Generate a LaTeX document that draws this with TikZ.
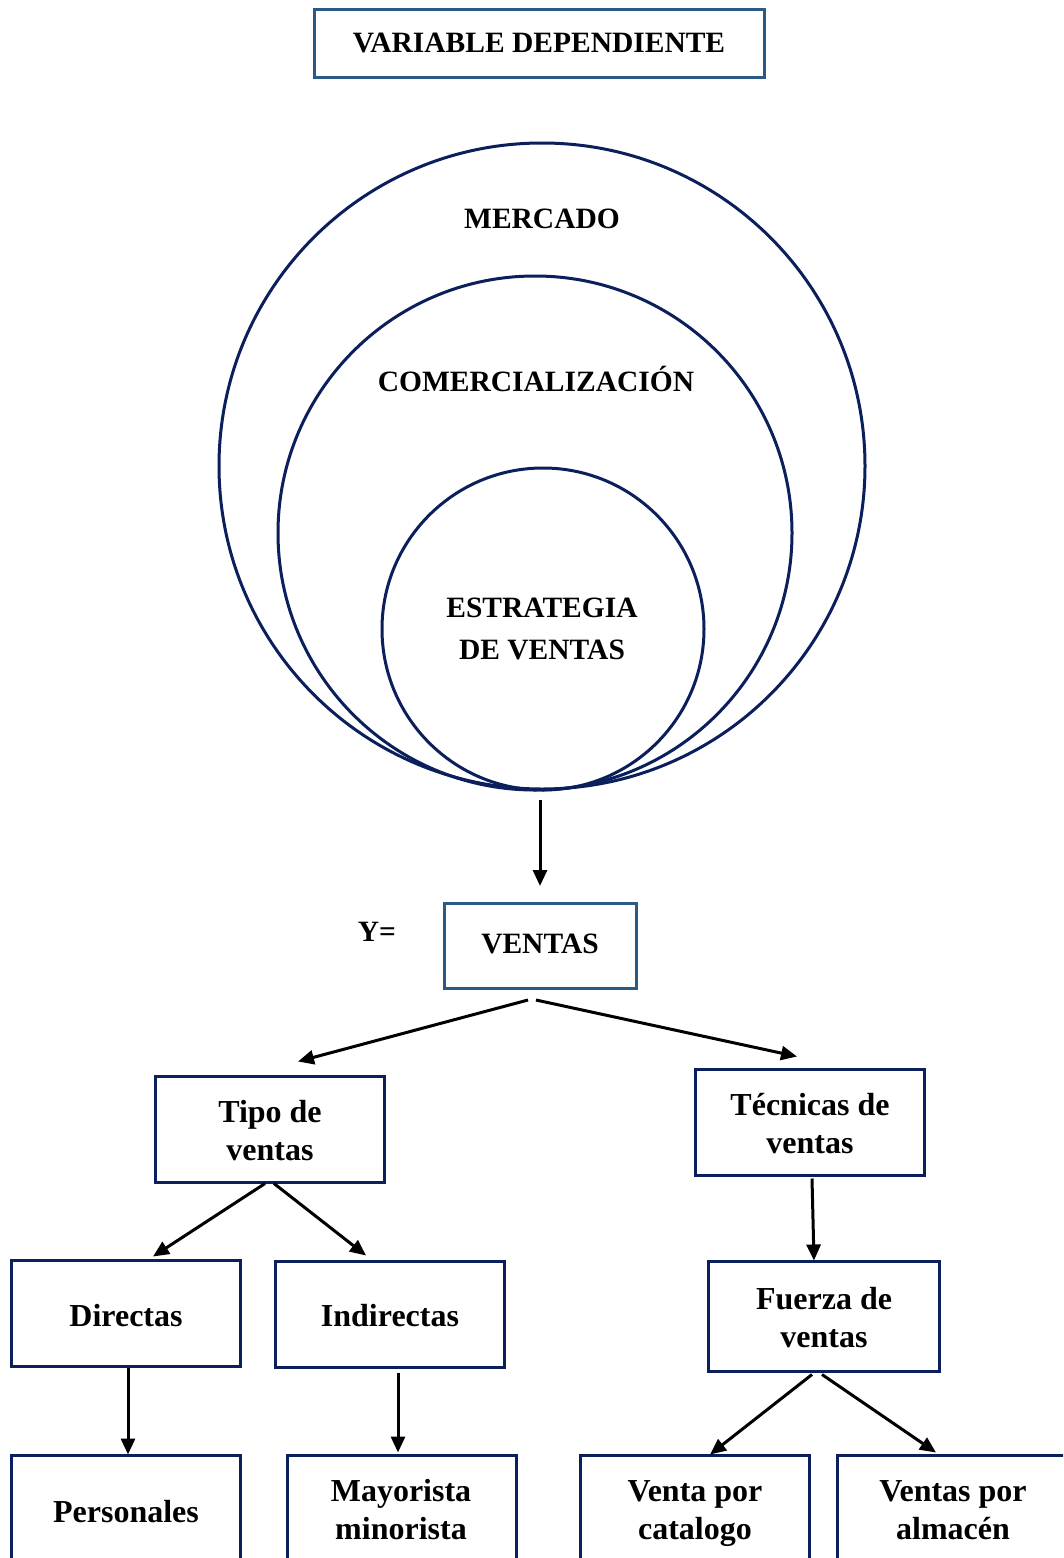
\documentclass[tikz,border=0pt]{standalone}
\usepackage{fontspec}
\setmainfont{Liberation Serif}
\usetikzlibrary{arrows.meta,calc}
\definecolor{steel}{HTML}{2B5A84}
\definecolor{navy}{HTML}{0A1F5C}
\begin{document}
\begin{tikzpicture}[x=1pt,y=-1pt,
  lbl/.style={font=\fontsize{29.5}{42}\selectfont\bfseries, align=center, inner sep=0pt},
  sml/.style={font=\fontsize{32}{38}\selectfont\bfseries, align=center, inner sep=0pt},
  box/.style={draw=navy, line width=3pt, minimum width=229pt, minimum height=106pt, inner sep=0pt},
  topbox/.style={draw=steel, line width=3pt, inner sep=0pt},
  ring/.style={draw=navy, line width=3pt, circle, inner sep=0pt},
  arr/.style={line width=3pt, -{Triangle[length=16pt,width=14pt]}}]
\clip (0,0) rectangle (1063,1558);
\fill[white] (0,0) rectangle (1063,1558);

% header
\node[topbox, minimum width=450pt, minimum height=68pt] (head) at (539,43) {};
\node[lbl] at (539,43) {VARIABLE DEPENDIENTE};

% nested circles, all touching at the bottom
\node[ring, minimum size=646pt] (mercado) at (542,466) {};
\node[ring, minimum size=514pt] (comerc) at (535,533) {};
\node[ring, minimum size=322pt] (estrat) at (543,629) {};
\node[lbl] at (542,219) {MERCADO};
\node[lbl] at (536,379) {COMERCIALIZACIÓN};
\node[lbl] at (542,629) {ESTRATEGIA\\DE VENTAS};

% dependent variable
\node[topbox, minimum width=192pt, minimum height=85pt] (ventas) at (540,946) {};
\node[lbl] at (540,944) {VENTAS};
\node[lbl] (yeq) at (377,932) {Y=};
\draw[arr] ($(estrat.south)+(-3,8)$) -- ($(ventas.north)+(0,-16)$);

% second level
\node[box] (tipo) at (270,1129) {};
\node[sml] at (270,1131) {Tipo de\\ventas};
\node[box] (tecn) at (810,1122) {};
\node[sml] at (810,1124) {Técnicas de\\ventas};
\draw[arr] ($(ventas.south)+(-12,10)$) -- ($(tipo.north)+(28,-13)$);
\draw[arr] ($(ventas.south)+(-4,10)$) -- ($(tecn.north)+(-13,-11)$);

% third level
\node[box] (direct) at (126,1313) {};
\node[sml] at (126,1316) {Directas};
\node[box] (indir) at (390,1314) {};
\node[sml] at (390,1316) {Indirectas};
\node[box, minimum width=231pt, minimum height=110pt] (fuerza) at (824,1316) {};
\node[sml] at (824,1318) {Fuerza de\\ventas};
\draw[arr] ($(tipo.south)+(-5,0)$) -- ($(direct.north)+(27,-2)$);
\draw[arr] ($(tipo.south)+(4,0)$) -- ($(indir.north)+(-24,-4)$);
\draw[arr] ($(tecn.south)+(2,2)$) -- ($(fuerza.north)+(-10,1)$);

% fourth level
\node[box] (pers) at (126,1508) {};
\node[sml] at (126,1512) {Personales};
\node[box] (mayor) at (402,1508) {};
\node[sml] at (401,1510) {Mayorista\\minorista};
\node[box] (catal) at (695,1508) {};
\node[sml] at (695,1514) {Venta por\\catalogo};
\node[box] (almac) at (952,1508) {};
\node[sml] at (953,1510) {Ventas por\\almacén};
\draw[arr] ($(direct.south)+(2,0)$) -- ($(pers.north)+(2,1)$);
\draw[arr] ($(indir.south)+(8,4)$) -- ($(mayor.north)+(-4,-1)$);
\draw[arr] ($(fuerza.south)+(-12,2)$) -- ($(catal.north)+(15,1)$);
\draw[arr] ($(fuerza.south)+(-2,2)$) -- ($(almac.north)+(-16,-1)$);
\end{tikzpicture}
\end{document}
